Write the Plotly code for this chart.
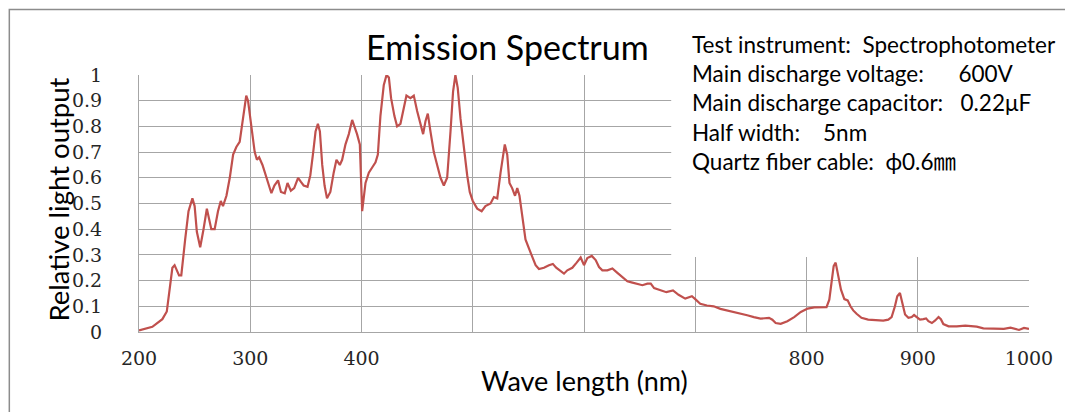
import plotly.graph_objects as go

# ---- data ----
wavelength = [
    200, 212, 221, 225, 230, 232, 236, 238, 241.5, 244.5, 248, 250, 252, 255, 258, 261, 263, 265, 268,
    271, 273.5, 275.5, 278.6, 281.6, 284.6, 287.5, 290.5, 293.5, 296.4, 298, 301, 304, 306, 308, 311,
    314, 316.6, 319, 321.7, 325, 327.6, 331, 333.5, 336.5, 339.5, 343, 345.4, 348, 351.5, 354, 356.6,
    358.7, 360.8, 362.6, 364.7, 366.8, 369, 372, 375, 377.5, 380.5, 382.6, 385.6, 388.6, 391.6, 393.7,
    396, 398.5, 400.6, 403.6, 406.6, 409.6, 412.6, 414.7, 417, 420, 422.5, 424.6, 426.6, 429.6, 432,
    435, 437.4, 440.4, 444, 447, 450, 453, 455.4, 457.5, 459.6, 462, 465, 468, 471, 474, 477, 480,
    482.3, 484.4, 486.5, 489, 492, 495, 497.3, 500, 504, 508, 511.4, 516, 519, 522, 525, 527, 528.8,
    531, 533, 535.4, 538, 540, 542, 544.4, 547.4, 550.5, 553.5, 556.5, 559.5, 564, 568.5, 572, 575,
    579, 582, 585, 589.5, 593.4, 597, 600, 603, 607, 610.5, 613.5, 616.5, 621, 625.5, 630, 634.5, 639,
    643.5, 648, 652.5, 657, 660, 663, 668, 674, 680, 685, 691, 697, 700, 704.5, 710.5, 716.6, 722.6,
    728.6, 734.6, 740.7, 746.7, 752.7, 758.7, 766.3, 769.3, 772.3, 776.8, 782.8, 788.9, 794.9, 801,
    807, 813, 818, 820.5, 822.6, 824.4, 826.2, 828, 831, 834, 837, 839.5, 842, 845, 849.4, 855.4, 863,
    869, 873.5, 876.5, 879.5, 881.6, 884, 886, 888.6, 891.6, 894.6, 896.7, 899, 902, 905, 907.5, 909.6,
    912.7, 915.7, 918.7, 920.8, 923, 927.7, 935, 942.8, 947.3, 953, 959, 968.4, 977.4, 983.4, 988, 991,
    995.5, 1000,
]
relative_output = [
    0.006, 0.02, 0.05, 0.08, 0.25, 0.26, 0.22, 0.22, 0.36, 0.47, 0.52, 0.49, 0.39, 0.33, 0.40, 0.48, 0.44, 0.40, 0.40,
    0.47, 0.51, 0.49, 0.53, 0.60, 0.69, 0.72, 0.74, 0.84, 0.92, 0.90, 0.79, 0.70, 0.67, 0.68, 0.65,
    0.61, 0.58, 0.54, 0.57, 0.59, 0.545, 0.54, 0.58, 0.55, 0.56, 0.60, 0.585, 0.57, 0.565, 0.61, 0.70,
    0.78, 0.81, 0.78, 0.65, 0.57, 0.52, 0.545, 0.62, 0.67, 0.65, 0.67, 0.73, 0.77, 0.825, 0.80,
    0.77, 0.73, 0.47, 0.58, 0.62, 0.64, 0.66, 0.69, 0.84, 0.96, 1.0, 0.99, 0.91, 0.84, 0.80,
    0.81, 0.86, 0.92, 0.91, 0.92, 0.86, 0.81, 0.77, 0.82, 0.85, 0.78, 0.70, 0.65, 0.60, 0.57, 0.60, 0.78,
    0.935, 1.0, 0.95, 0.83, 0.71, 0.61, 0.545, 0.51, 0.48, 0.47, 0.49, 0.50, 0.525, 0.52, 0.62, 0.69, 0.73,
    0.69, 0.58, 0.56, 0.53, 0.56, 0.53, 0.455, 0.36, 0.325, 0.29, 0.26, 0.245, 0.25, 0.26, 0.265, 0.25,
    0.235, 0.227, 0.24, 0.25, 0.27, 0.29, 0.26, 0.288, 0.296, 0.28, 0.253, 0.24, 0.24, 0.247, 0.23, 0.214, 0.197,
    0.192, 0.188, 0.182, 0.188, 0.188, 0.171, 0.163, 0.155, 0.162, 0.145, 0.13, 0.139, 0.128, 0.11, 0.103, 0.10, 0.09,
    0.084, 0.08, 0.071, 0.065, 0.058, 0.052, 0.055, 0.048, 0.035, 0.032, 0.042, 0.058, 0.078, 0.091,
    0.096, 0.096, 0.097, 0.126, 0.204, 0.256, 0.27, 0.23, 0.165, 0.128, 0.123, 0.100, 0.084, 0.071, 0.055, 0.048, 0.047,
    0.044, 0.048, 0.058, 0.10, 0.139, 0.152, 0.113, 0.068, 0.055, 0.058, 0.066, 0.058, 0.048, 0.05, 0.053, 0.042,
    0.035, 0.045, 0.058, 0.05, 0.031, 0.022, 0.022, 0.025, 0.022, 0.021, 0.014, 0.012, 0.012, 0.017, 0.01, 0.008,
    0.016, 0.012,
]

x_tick_values = [200, 300, 400, 500, 600, 700, 800, 900, 1000]
x_tick_labels = ["200", "300", "400", "", "", "", "800", "900", "1000"]
y_tick_values = [0, 0.1, 0.2, 0.3, 0.4, 0.5, 0.6, 0.7, 0.8, 0.9, 1.0]
y_tick_labels = ["0", "0.1", "0.2", "0.3", "0.4", "0.5", "0.6", "0.7", "0.8", "0.9", "1"]

chart_title = "Emission Spectrum"
x_title = "Wave length (nm)"
y_title = "Relative light output"
NB = "\u00a0"
info_lines = [
    "Test instrument:" + NB * 2 + "Spectrophotometer",
    "Main discharge voltage:" + NB * 6 + "600V",
    "Main discharge capacitor:" + NB * 3 + "0.22μF",
    "Half width:" + NB * 4 + "5nm",
    "Quartz fiber cable:" + NB * 2 + "ϕ0.6㎜",
]

# ---- layout geometry: reference pixel coords, page renders the figure 8px in ----
OFF = 8
W, H = 1073 - OFF, 412 - OFF
L, R, T, B = 138.5 - OFF, 1029 - OFF, 75 - OFF, 332 - OFF


def px(xr):
    return ((xr - OFF) - L) / (R - L)


def py(yr):
    return (B - (yr - OFF)) / (B - T)


GRID = "#a6a6a6"
LINE = "#c0504d"
SANS = "Lato, 'Open Sans', sans-serif"
SERIF = "'DejaVu Serif', serif"

fig = go.Figure()
fig.add_trace(go.Scatter(
    x=wavelength, y=relative_output, mode="lines",
    line=dict(color=LINE, width=2.2), showlegend=False, hoverinfo="skip",
))

annotations = [
    dict(text=chart_title, x=px(507), y=py(47), xref="paper", yref="paper",
         xanchor="center", yanchor="middle", showarrow=False,
         font=dict(family=SANS, size=34, color="#000000")),
    dict(text=y_title, x=px(57), y=py(200), xref="paper", yref="paper",
         xanchor="center", yanchor="middle", showarrow=False, textangle=-90,
         font=dict(family=SANS, size=27.5, color="#000000")),
    dict(text=x_title, x=px(584), y=py(380), xref="paper", yref="paper",
         xanchor="center", yanchor="middle", showarrow=False,
         font=dict(family=SANS, size=27, color="#000000")),
]
for i, line in enumerate(info_lines):
    annotations.append(dict(
        text=line, x=px(690), y=py(44.5 + 29.2 * i), xref="paper", yref="paper",
        xanchor="left", yanchor="middle", showarrow=False,
        font=dict(family=SANS + ", 'Noto Sans CJK JP'", size=22.5, color="#000000"),
    ))

box_x0 = 200 + (671 - 138.5) / 1.1131
shapes = [
    # white info box covering the upper right grid (above grid, below the curve)
    dict(type="rect", xref="x", yref="y", x0=box_x0, x1=1100,
         y0=(332 - 257) / 257, y1=1.3, fillcolor="white", line=dict(width=0), layer="between"),
    # outer chart frame
    dict(type="rect", xref="paper", yref="paper", x0=px(8.75), x1=px(1120),
         y0=py(440), y1=py(9.5), fillcolor="rgba(0,0,0,0)",
         line=dict(color="#8c8c8c", width=1.5), layer="above"),
]

fig.update_layout(
    width=W, height=H,
    margin=dict(l=L, r=W - R, t=T, b=H - B, pad=0),
    paper_bgcolor="white", plot_bgcolor="white",
    annotations=annotations, shapes=shapes,
    showlegend=False,
)
fig.update_xaxes(
    range=[200, 1000], tickvals=x_tick_values, ticktext=x_tick_labels,
    showgrid=True, gridcolor=GRID, gridwidth=1.2, zeroline=False,
    showline=True, linecolor=GRID, linewidth=1.2, ticks="",
    tickfont=dict(family=SERIF, size=19, color="#262626"), ticklabelstandoff=9,
)
fig.update_yaxes(
    range=[0, 1], tickvals=y_tick_values, ticktext=y_tick_labels,
    showgrid=True, gridcolor=GRID, gridwidth=1.2, zeroline=False,
    showline=True, linecolor=GRID, linewidth=1.2, ticks="",
    tickfont=dict(family=SERIF, size=19, color="#262626"), ticklabelstandoff=32,
)

fig.write_html("out.html")
